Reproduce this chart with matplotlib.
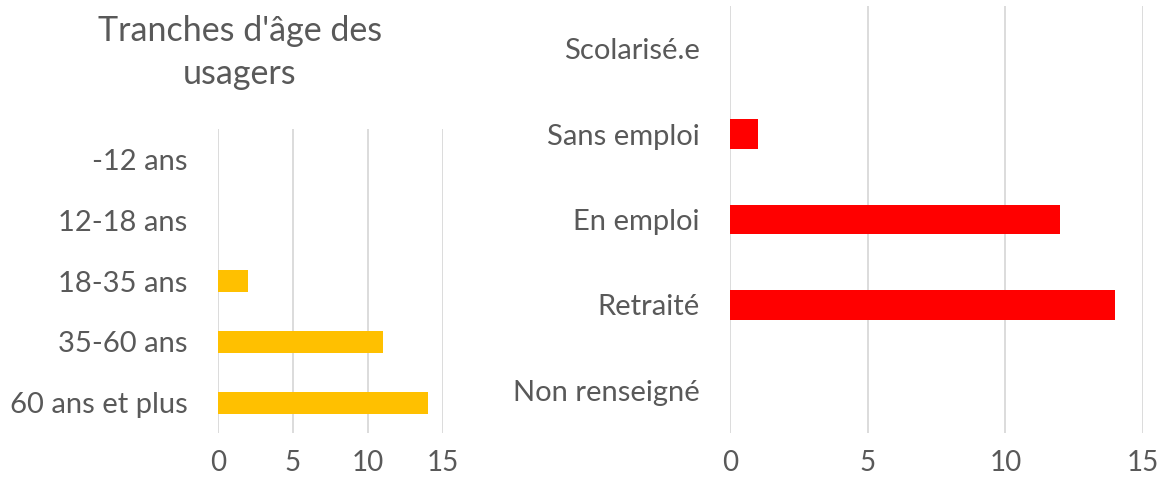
import matplotlib.pyplot as plt

# donnees
ages = ['-12 ans', '12-18 ans', '18-35 ans', '35-60 ans', '60 ans et plus']
ages_n = [0, 0, 2, 11, 14]
situations = ['Scolarisé.e', 'Sans emploi', 'En emploi', 'Retraité', 'Non renseigné']
situations_n = [0, 1, 12, 14, 0]
ticks = [0, 5, 10, 15]

plt.rcParams['font.family'] = ['Lato', 'DejaVu Sans']
gris = '#595959'

fig = plt.figure(figsize=(11.65, 4.79), dpi=100)
ax1 = fig.add_axes([0.1871, 0.0960, 0.1931, 0.6347])
ax2 = fig.add_axes([0.6266, 0.0960, 0.3545, 0.8915])


def style(ax, cats, vals, couleur, h):
    pos = list(range(len(cats)))
    ax.barh(pos, vals, height=h, color=couleur, zorder=3)
    ax.set_yticks(pos)
    ax.set_yticklabels(cats)
    ax.set_ylim(len(cats) - 0.5, -0.5)
    ax.set_xlim(0, 15)
    ax.set_xticks(ticks)
    ax.grid(axis='x', color='#D9D9D9', linewidth=1.3, zorder=0)
    for s in ax.spines.values():
        s.set_visible(False)
    ax.tick_params(length=0, labelsize=21, colors=gris)
    ax.tick_params(axis='y', pad=22)
    ax.tick_params(axis='x', pad=12, labelsize=20)


style(ax1, ages, ages_n, '#FFC000', 0.36)
style(ax2, situations, situations_n, '#FF0000', 0.35)

fig.text(0.206, 0.89, "Tranches d'âge des\nusagers", ha='center', va='center',
         fontsize=24.5, color=gris, linespacing=1.42)

plt.savefig('out.png')
